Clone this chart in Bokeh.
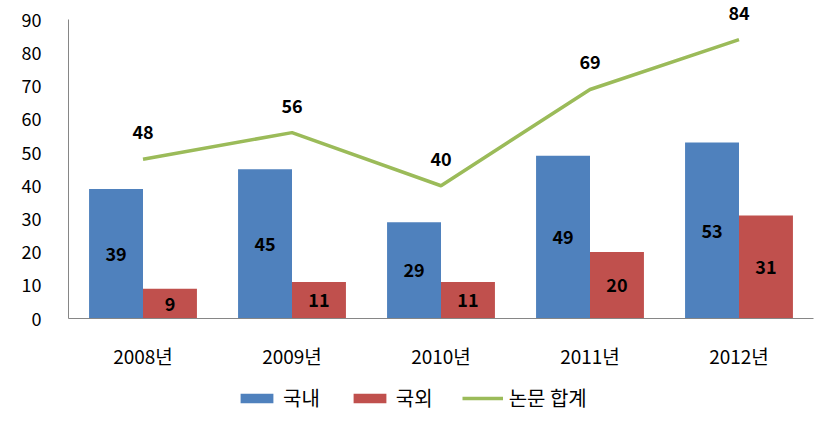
from bokeh.plotting import figure
from bokeh.layouts import column
from bokeh.models import ColumnDataSource, FactorRange, Range1d, Legend, LegendItem
from bokeh.transform import dodge
from bokeh.core.properties import value
from bokeh.embed import file_html
from bokeh.resources import INLINE

years = ["2008년", "2009년", "2010년", "2011년", "2012년"]
domestic = [39, 45, 29, 49, 53]
foreign = [9, 11, 11, 20, 31]
total = [48, 56, 40, 69, 84]
y_ticks = [0, 10, 20, 30, 40, 50, 60, 70, 80, 90]
series_names = ["국내", "국외", "논문 합계"]

FONT = "Noto Sans CJK KR"
BLUE = "#4F81BD"
RED = "#C0504D"
GREEN = "#9BBB59"
BW = 0.362

src = ColumnDataSource(dict(
    year=years,
    dom=domestic,
    frn=foreign,
    tot=total,
    dom_mid=[v / 2 for v in domestic],
    frn_mid=[v / 2 for v in foreign],
    dom_txt=[str(v) for v in domestic],
    frn_txt=[str(v) for v in foreign],
    tot_txt=[str(v) for v in total],
))

p = figure(
    width=836, height=380,
    x_range=FactorRange(*years, range_padding=0),
    y_range=Range1d(0, 94),
    output_backend="svg", toolbar_location=None,
    min_border_left=68, min_border_right=23,
    min_border_top=6, min_border_bottom=62,
)
p.outline_line_color = None
p.grid.grid_line_color = None
p.background_fill_color = "white"
p.border_fill_color = "white"

p.vbar(x=dodge("year", -BW / 2, range=p.x_range), top="dom", width=BW,
       source=src, fill_color=BLUE, line_color=None)
p.vbar(x=dodge("year", BW / 2, range=p.x_range), top="frn", width=BW,
       source=src, fill_color=RED, line_color=None)
p.line(x="year", y="tot", source=src, line_color=GREEN, line_width=3.5)

lbl = dict(text_font=value(FONT), text_font_size="18px", text_font_style="bold",
           text_color="black", text_align="center", text_baseline="middle")
p.text(x=dodge("year", -BW / 2, range=p.x_range), y="dom_mid", text="dom_txt", source=src, **lbl)
p.text(x=dodge("year", BW / 2, range=p.x_range), y="frn_mid", text="frn_txt", source=src, **lbl)
p.text(x="year", y="tot", text="tot_txt", source=src, y_offset=-27, **lbl)

# axes
p.yaxis.ticker = y_ticks
p.yaxis.bounds = (0, 90)
for ax in (p.xaxis[0], p.yaxis[0]):
    ax.axis_line_color = "#868686"
    ax.axis_line_width = 1
    ax.major_tick_line_color = None
    ax.minor_tick_line_color = None
    ax.major_label_text_font = FONT
    ax.major_label_text_font_size = "18px"
    ax.major_label_text_color = "black"
p.xaxis.major_label_text_font_size = "19px"
p.yaxis.major_label_standoff = 21
p.xaxis.major_label_standoff = 17

# legend strip below the chart (series drawn out of view, only their legend keys show)
lg = figure(width=836, height=49, output_backend="svg", toolbar_location=None,
            x_range=FactorRange(*years), y_range=Range1d(1000, 1001),
            min_border=0, outline_line_color=None)
lg.axis.visible = False
lg.grid.visible = False
k_dom = lg.vbar(x="year", top="dom", width=BW, source=src, fill_color=BLUE, line_color=None)
k_frn = lg.vbar(x="year", top="frn", width=BW, source=src, fill_color=RED, line_color=None)
k_tot = lg.line(x="year", y="tot", source=src, line_color=GREEN, line_width=3.5)
legend = Legend(items=[
    LegendItem(label=series_names[0], renderers=[k_dom]),
    LegendItem(label=series_names[1], renderers=[k_frn]),
    LegendItem(label=series_names[2], renderers=[k_tot]),
], location=(168, 17), orientation="horizontal",
    label_text_font=FONT, label_text_font_size="20px", label_text_color="black",
    glyph_width=41, glyph_height=12, label_standoff=6, spacing=29,
    padding=0, margin=0, border_line_color=None, background_fill_alpha=0,
    label_height=20)
lg.add_layout(legend, "center")

layout = column(p, lg, spacing=0)
open("out.html", "w").write(file_html(layout, INLINE))
